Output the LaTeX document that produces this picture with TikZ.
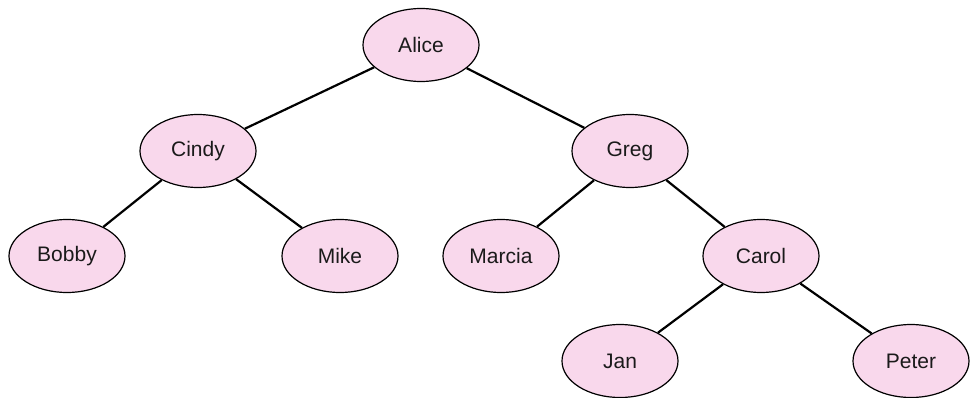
\documentclass[tikz,border=0pt]{standalone}
\usepackage{fontspec}
\setmainfont{Liberation Sans}
\usetikzlibrary{shapes.geometric}
\definecolor{nodepink}{HTML}{F9D8EC}
\definecolor{textgray}{HTML}{1A1A1A}
\tikzset{
  person/.style={ellipse, draw=black, line width=1.2pt, fill=nodepink,
    minimum width=116pt, minimum height=73pt, inner sep=0pt,
    text=textgray, font=\fontsize{21}{25}\selectfont},
  link/.style={draw=black, line width=2.2pt}
}
\begin{document}
\begin{tikzpicture}[x=1pt,y=-1pt]
\useasboundingbox (0,0) rectangle (970,397);
\node[person] (alice)  at (421,45)  {Alice};
\node[person] (cindy)  at (198,151) {Cindy};
\node[person] (greg)   at (630,151) {Greg};
\node[person] (bobby)  at (67,256)  {Bobby};
\node[person] (mike)   at (340,256) {Mike};
\node[person] (marcia) at (501,256) {Marcia};
\node[person] (carol)  at (761,256) {Carol};
\node[person] (jan)    at (620,361) {Jan};
\node[person] (peter)  at (911,361) {Peter};
\path[link] (alice) -- (cindy);
\path[link] (alice) -- (greg);
\path[link] (cindy) -- (bobby);
\path[link] (cindy) -- (mike);
\path[link] (greg) -- (marcia);
\path[link] (greg) -- (carol);
\path[link] (carol) -- (jan);
\path[link] (carol) -- (peter);
\end{tikzpicture}
\end{document}
